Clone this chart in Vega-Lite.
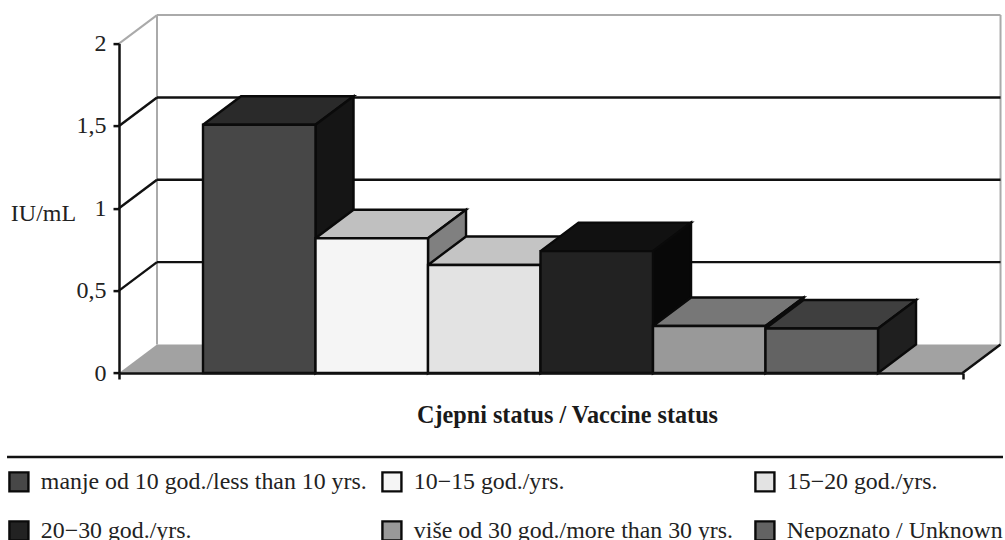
{
"$schema":"https://vega.github.io/schema/vega-lite/v6.json",
"width":843.5,"height":329.4,
"autosize":{"type":"none"},
"padding":{"left":119,"top":43.6,"right":42.5,"bottom":167},
"background":"#ffffff",
"config":{"view":{"stroke":null},"font":"Liberation Serif"},
"datasets":{
"bars":[
{"group":"manje od 10 god./less than 10 yrs.","pos":0,"value":1.507},
{"group":"10−15 god./yrs.","pos":1,"value":0.818},
{"group":"15−20 god./yrs.","pos":2,"value":0.656},
{"group":"20−30 god./yrs.","pos":3,"value":0.74},
{"group":"više od 30 god./more than 30 yrs.","pos":4,"value":0.285},
{"group":"Nepoznato / Unknown","pos":5,"value":0.27}],
"floor":[
{"x":-0.7467,"y":0,"i":0},{"x":6.751,"y":0,"i":1},{"x":7.089,"y":0.173,"i":2},{"x":-0.4089,"y":0.173,"i":3}],
"frame":[
{"kind":"wall","x":-0.7467,"y":2,"x2":-0.4089,"y2":2.173},
{"kind":"wall","x":-0.4089,"y":2.173,"x2":7.089,"y2":2.173},
{"kind":"wall","x":-0.4089,"y":0.173,"x2":-0.4089,"y2":2.173},
{"kind":"wall","x":7.089,"y":0.173,"x2":7.089,"y2":2.173},
{"kind":"grid","x":-0.7467,"y":0.5,"x2":-0.4089,"y2":0.673},
{"kind":"grid","x":-0.4089,"y":0.673,"x2":7.089,"y2":0.673},
{"kind":"grid","x":-0.7467,"y":1,"x2":-0.4089,"y2":1.173},
{"kind":"grid","x":-0.4089,"y":1.173,"x2":7.089,"y2":1.173},
{"kind":"grid","x":-0.7467,"y":1.5,"x2":-0.4089,"y2":1.673},
{"kind":"grid","x":-0.4089,"y":1.673,"x2":7.089,"y2":1.673},
{"kind":"grid","x":6.751,"y":0,"x2":7.089,"y2":0.173}],
"separator":[{"x":-1.742,"x2":7.111,"y":-0.51}]
},
"resolve":{"scale":{"fill":"independent"},"axis":{"x":"independent","y":"independent"}},
"layer":[
{"data":{"name":"floor"},
 "mark":{"type":"line","strokeWidth":0,"interpolate":"linear"},
 "encoding":{
  "x":{"field":"x","type":"quantitative","scale":{"domain":[-0.7467,6.751],"nice":false,"zero":false},
   "axis":{"values":[-0.7467,6.751],"labels":false,"grid":false,"domainColor":"#111","domainWidth":2.5,"tickColor":"#111","tickWidth":2.5,"tickSize":6,"zindex":1,
    "title":"Cjepni status / Vaccine status","titleFont":"Liberation Serif","titleFontWeight":"bold","titleFontSize":24.2,"titleColor":"#1a1a1a","titleX":448,"titleY":42,"titleAnchor":"middle","titleAlign":"center","titleBaseline":"middle"}},
  "y":{"field":"y","type":"quantitative","scale":{"domain":[0,2],"nice":false,"zero":false},
   "axis":{"values":[0,0.5,1,1.5,2],"format":"~g","labelExpr":"replace(datum.label,'.',',')","grid":false,"domainColor":"#111","domainWidth":2.5,"tickColor":"#111","tickWidth":2.5,"tickSize":6,"labelFont":"Liberation Serif","labelFontSize":24,"labelColor":"#222","labelPadding":7,"zindex":1,
    "title":"IU/mL","titleAngle":0,"titleFont":"Liberation Serif","titleFontWeight":"normal","titleFontSize":24,"titleColor":"#222","titleX":-76,"titleY":170,"titleAlign":"center","titleBaseline":"middle"}},
  "order":{"field":"i","type":"quantitative"},
  "fill":{"value":"#a2a2a2"}
 }},
{"data":{"name":"frame"},"transform":[{"filter":"datum.kind==='wall'"}],
 "mark":{"type":"rule","stroke":"#aaaaaa","strokeWidth":2},
 "encoding":{"x":{"field":"x","type":"quantitative","axis":null},"y":{"field":"y","type":"quantitative","axis":null},"x2":{"field":"x2"},"y2":{"field":"y2"}}},
{"data":{"name":"frame"},"transform":[{"filter":"datum.kind==='grid'"}],
 "mark":{"type":"rule","stroke":"#111111","strokeWidth":2.4},
 "encoding":{"x":{"field":"x","type":"quantitative","axis":null},"y":{"field":"y","type":"quantitative","axis":null},"x2":{"field":"x2"},"y2":{"field":"y2"}}},
{"data":{"name":"bars"},
 "transform":[
  {"calculate":"['top','side']","as":"face"},
  {"flatten":["face"]},
  {"calculate":"datum.group+' '+datum.face","as":"faceKey"},
  {"calculate":"datum.face==='top'?[datum.pos,datum.pos+1,datum.pos+1.338,datum.pos+0.338,datum.pos]:[datum.pos+1,datum.pos+1.338,datum.pos+1.338,datum.pos+1,datum.pos+1]","as":"vx"},
  {"calculate":"datum.face==='top'?[datum.value,datum.value,datum.value+0.173,datum.value+0.173,datum.value]:[datum.value,datum.value+0.173,0.173,0,datum.value]","as":"vy"},
  {"calculate":"[0,1,2,3,4]","as":"vi"},
  {"flatten":["vx","vy","vi"]}
 ],
 "mark":{"type":"line","stroke":"#0a0a0a","strokeWidth":2.4,"strokeJoin":"miter"},
 "encoding":{
  "x":{"field":"vx","type":"quantitative","axis":null},
  "y":{"field":"vy","type":"quantitative","axis":null},
  "detail":{"field":"faceKey"},
  "order":{"field":"vi","type":"quantitative"},
  "fill":{"field":"faceKey","type":"nominal","legend":null,"scale":{
   "domain":["manje od 10 god./less than 10 yrs. top","manje od 10 god./less than 10 yrs. side","10−15 god./yrs. top","10−15 god./yrs. side","15−20 god./yrs. top","15−20 god./yrs. side","20−30 god./yrs. top","20−30 god./yrs. side","više od 30 god./more than 30 yrs. top","više od 30 god./more than 30 yrs. side","Nepoznato / Unknown top","Nepoznato / Unknown side"],
   "range":["#2a2a2a","#151515","#c0c0c0","#808080","#c4c4c4","#6e6e6e","#111111","#080808","#777777","#444444","#3f3f3f","#1f1f1f"]}}
 }},
{"data":{"name":"bars"},
 "transform":[{"calculate":"datum.pos+1","as":"end"}],
 "mark":{"type":"rect","stroke":"#0a0a0a","strokeWidth":2.4},
 "encoding":{
  "x":{"field":"pos","type":"quantitative","axis":null},
  "x2":{"field":"end"},
  "y":{"field":"value","type":"quantitative","axis":null},
  "y2":{"datum":0},
  "fill":{"field":"group","type":"nominal","sort":null,
   "scale":{"domain":["manje od 10 god./less than 10 yrs.","10−15 god./yrs.","15−20 god./yrs.","20−30 god./yrs.","više od 30 god./more than 30 yrs.","Nepoznato / Unknown"],"range":["#474747","#f5f5f5","#e3e3e3","#222222","#999999","#636363"]},
   "legend":{"title":null,"orient":"none","legendX":-112,"legendY":426,"direction":"horizontal","columns":3,"gridAlign":"all","columnPadding":10,"rowPadding":19.4,"symbolType":"square","symbolSize":361,"symbolStrokeWidth":2.4,"symbolStrokeColor":"#0a0a0a","labelFont":"Liberation Serif","labelFontSize":23.85,"labelColor":"#222","labelLimit":420,"labelOffset":10}}
 }},
{"data":{"name":"separator"},
 "mark":{"type":"rule","stroke":"#111111","strokeWidth":2.5},
 "encoding":{"x":{"field":"x","type":"quantitative","axis":null},"x2":{"field":"x2"},"y":{"field":"y","type":"quantitative","axis":null}}}
]
}
